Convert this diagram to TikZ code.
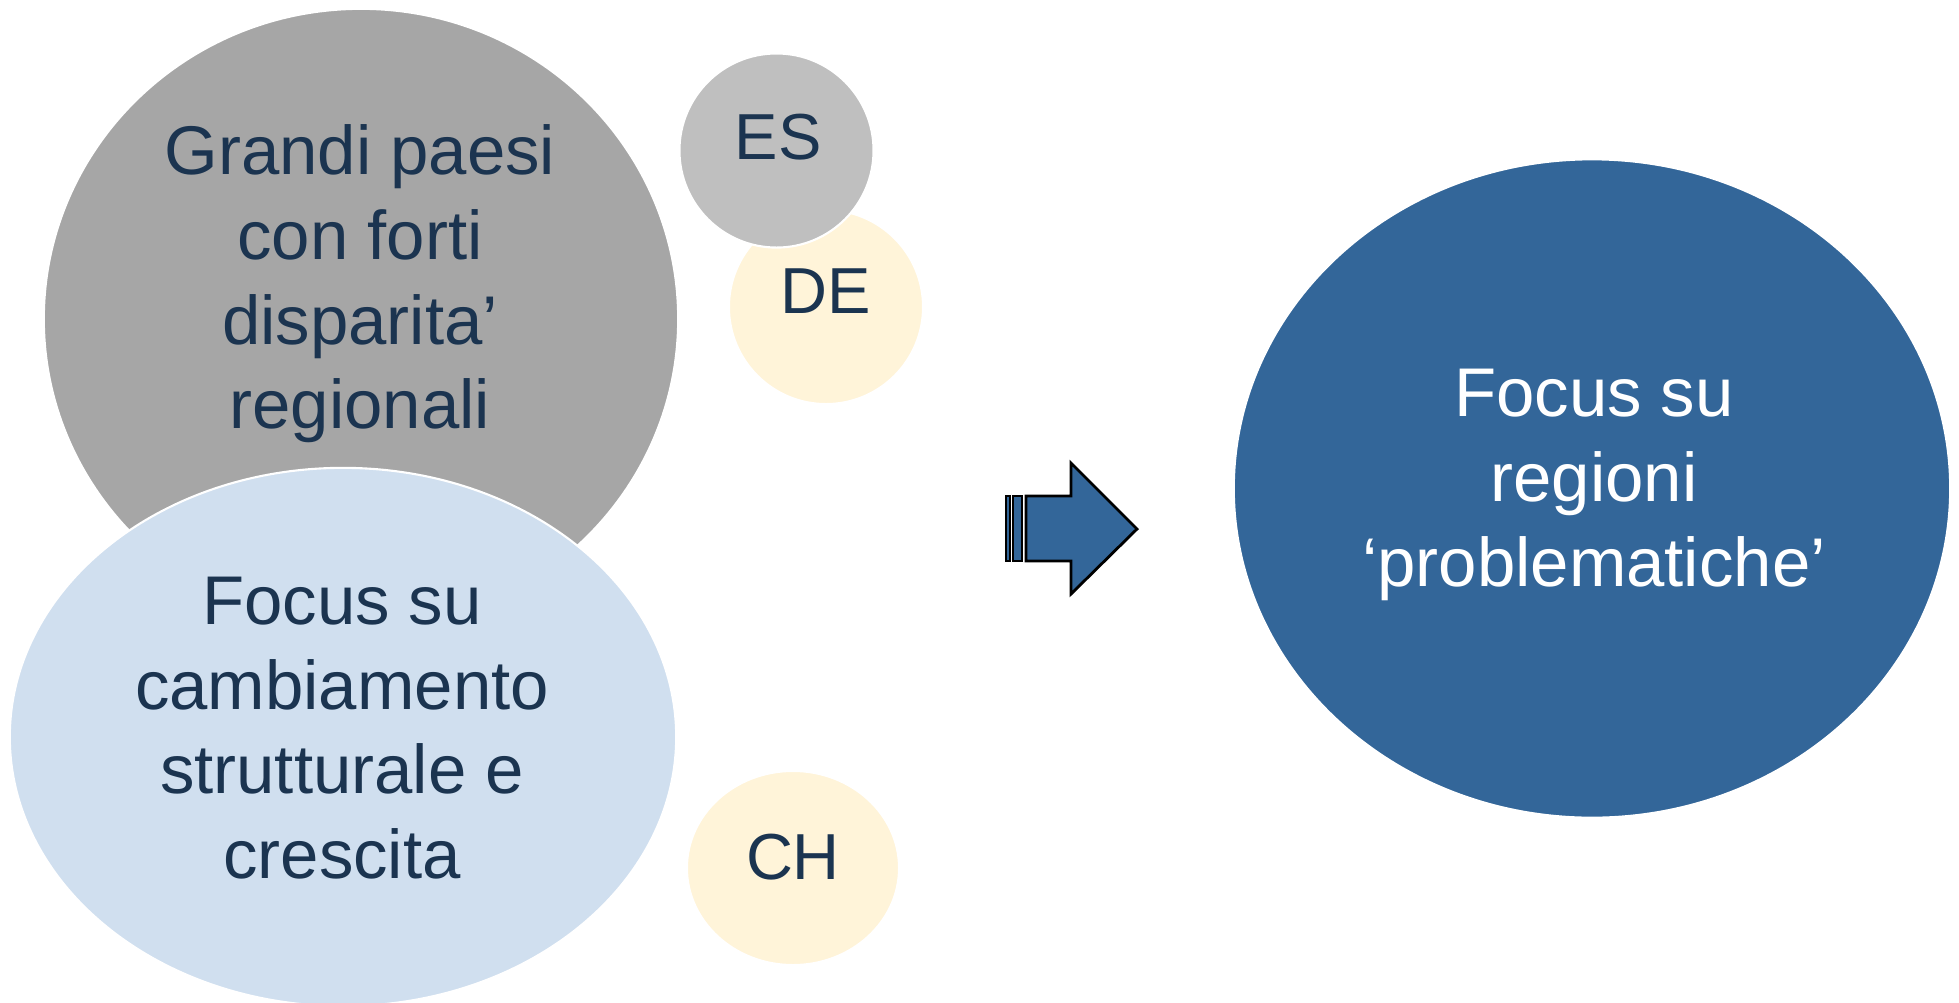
\documentclass[tikz,border=0pt]{standalone}
\usepackage{fontspec}
\setmainfont{Liberation Sans}
\usetikzlibrary{shapes,positioning,calc}
\definecolor{navytxt}{HTML}{1B3450}
\definecolor{greybig}{HTML}{A6A6A6}
\definecolor{greysmall}{HTML}{BFBFBF}
\definecolor{creamfill}{HTML}{FFF4D9}
\definecolor{paleblue}{HTML}{D0DFEF}
\definecolor{deepblue}{HTML}{336699}
\tikzset{
    bubble/.style={ellipse, draw=white, line width=0.6pt, inner sep=0pt},
    bigtxt/.style={align=center, text=navytxt, font=\fontsize{19.6}{24.1}\selectfont},
    smalltxt/.style={text=navytxt, font=\fontsize{18.5}{22}\selectfont},
    blockarrow/.style={draw=black, line width=0.8pt, fill=deepblue, line join=miter}
}

\begin{document}
\begin{tikzpicture}[x=0.01cm, y=-0.01cm]
            \useasboundingbox (0,0) rectangle (1959,1002);
            \node[bubble, fill=greybig, minimum width=6.34cm, minimum height=6.2cm] (big) at (361,319) {};
            \node[bubble, fill=creamfill, minimum width=1.94cm, minimum height=1.94cm] (de) at (826,307) {};
            \node[bubble, fill=greysmall, minimum width=1.94cm, minimum height=1.94cm] (es) at (776.5,150.5) {};
            \node[bubble, fill=paleblue, minimum width=6.66cm, minimum height=5.38cm] (struct) at (343,737) {};
            \node[bubble, fill=creamfill, minimum width=2.12cm, minimum height=1.94cm] (ch) at (793,868) {};
            \node[bubble, fill=deepblue, minimum width=7.16cm, minimum height=6.58cm] (regio) at (1592,488.5) {};
            % texts
            \node[bigtxt] (bigtext) at (360,284) {Grandi paesi\\con forti\\disparita’\\regionali};
            \node[bigtxt] (structtext) at (342,728) {Focus su\\cambiamento\\strutturale e\\crescita};
            \node[bigtxt, text=white] (regiotext) at (1594,485) {Focus su\\regioni\\‘problematiche’};
            \node[smalltxt] (estext) at (778,137) {ES};
            \node[smalltxt] (detext) at (826,291) {DE};
            \node[smalltxt] (chtext) at (793,857) {CH};
            % striped arrow
            \coordinate (tip) at (1137,529);
            \draw[blockarrow] (1006,496) rectangle (1010,561);
            \draw[blockarrow] (1013,496) rectangle (1022,561);
            \draw[blockarrow] (1026,496) -- (1071,496) -- (1071,463) -- (tip)
                -- (1071,594) -- (1071,561) -- (1026,561) -- cycle;
        \end{tikzpicture}
\end{document}
